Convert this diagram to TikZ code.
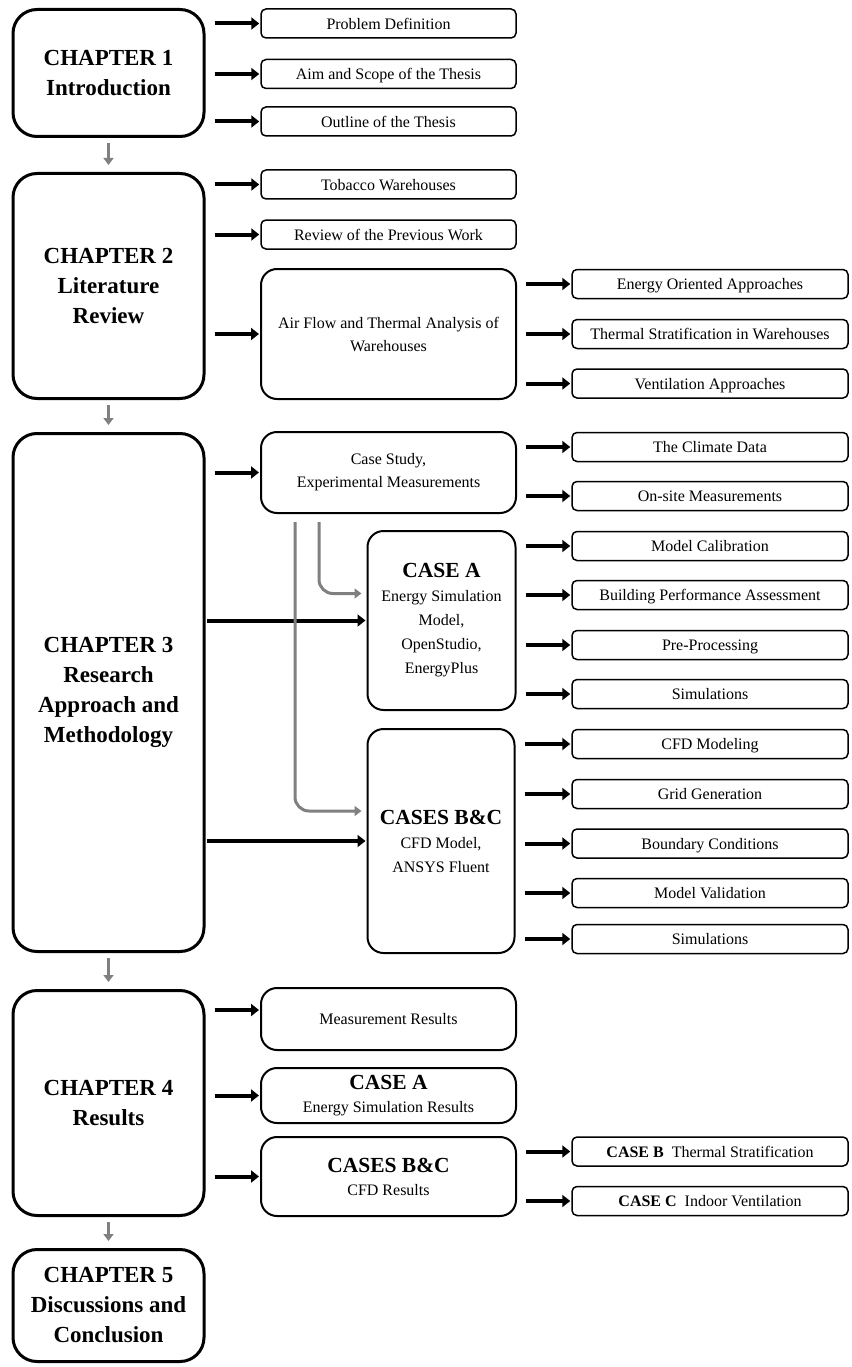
\documentclass[tikz,border=0pt]{standalone}
\usepackage{fontspec}
\setmainfont{Liberation Serif}
\usetikzlibrary{arrows.meta, positioning, calc}
\definecolor{linkgray}{RGB}{128,128,128}
\newcommand{\casehead}[1]{{\fontsize{21.5}{24}\selectfont\bfseries #1}}

\begin{document}
\begin{tikzpicture}[
    x=1pt, y=-1pt,
    chapter/.style={draw, line width=3pt, rounded corners=24pt, minimum width=191pt, inner sep=2pt, align=center, font=\fontsize{23}{30}\selectfont\bfseries},
    topic/.style={draw, line width=2pt, rounded corners=16pt, minimum width=255pt, inner sep=2pt, align=center, font=\fontsize{16}{23}\selectfont},
    casebox/.style={topic, minimum width=148pt, font=\fontsize{16}{24}\selectfont},
    item/.style={draw, line width=1.5pt, rounded corners=5pt, minimum height=29pt, inner sep=2pt, text height=12.5pt, text depth=1pt, align=center, font=\fontsize{16}{20}\selectfont},
    subitem/.style={item, minimum width=255pt},
    detail/.style={item, minimum width=276pt},
    arrow/.style={-{Triangle[length=8pt,width=12pt]}, line width=4pt, shorten <=9pt, shorten >=1pt},
    longarrow/.style={arrow, shorten <=1pt},
    next/.style={-{Triangle[length=7pt,width=10pt]}, line width=3pt, draw=linkgray, shorten <=5pt, shorten >=7pt},
    feed/.style={-{Triangle[length=7pt,width=10pt]}, line width=3pt, draw=linkgray, rounded corners=14pt, shorten >=5pt}
]
    \useasboundingbox (0,0) rectangle (851,1367);

    % Chapters
    \node[chapter, minimum height=127pt] (ch1) at (108.5,73) {CHAPTER 1\\Introduction};
    \node[chapter, minimum height=225pt] (ch2) at (108.5,286) {CHAPTER 2\\Literature\\Review};
    \node[chapter, minimum height=518pt] (ch3) at (108.5,692.5) {CHAPTER 3\\Research\\Approach and\\Methodology};
    \node[chapter, minimum height=225pt] (ch4) at (108.5,1103) {CHAPTER 4\\Results};
    \node[chapter, minimum height=112pt] (ch5) at (108.5,1305.5) {CHAPTER 5\\Discussions and\\Conclusion};

    % Chapter 1 items
    \node[subitem] (probdef) at (388.5,23.5) {Problem Definition};
    \node[subitem] (aimscope) at (388.5,74) {Aim and Scope of the Thesis};
    \node[subitem] (outline) at (388.5,121.5) {Outline of the Thesis};

    % Chapter 2 items
    \node[subitem] (tobacco) at (388.5,184.5) {Tobacco Warehouses};
    \node[subitem] (review) at (388.5,234.5) {Review of the Previous Work};
    \node[topic, minimum height=130pt] (airflow) at (388.5,334) {Air Flow and Thermal Analysis of\\Warehouses};
    \node[detail] (energyapp) at (710,284) {Energy Oriented Approaches};
    \node[detail] (stratif) at (710,334) {Thermal Stratification in Warehouses};
    \node[detail] (ventil) at (710,383.5) {Ventilation Approaches};

    % Chapter 3 items
    \node[topic, minimum height=81pt] (casestudy) at (388.5,472.5) {Case Study,\\Experimental Measurements};
    \node[detail] (climate) at (710,447) {The Climate Data};
    \node[detail] (onsite) at (710,496) {On-site Measurements};
    \node[casebox, minimum height=179pt] (caseA) at (441.5,620.5) {\casehead{CASE A}\\Energy Simulation\\Model,\\OpenStudio,\\EnergyPlus};
    \node[detail] (calib) at (710,546) {Model Calibration};
    \node[detail] (perf) at (710,595) {Building Performance Assessment};
    \node[detail] (preproc) at (710,645) {Pre-Processing};
    \node[detail] (simA) at (710,694) {Simulations};
    \node[casebox, minimum height=224pt, minimum width=147pt] (casesBC) at (441,841) {\casehead{CASES B\&C}\\CFD Model,\\ANSYS Fluent};
    \node[detail] (cfdmod) at (710,744) {CFD Modeling};
    \node[detail] (grid) at (710,794) {Grid Generation};
    \node[detail] (boundary) at (710,843.5) {Boundary Conditions};
    \node[detail] (validation) at (710,893) {Model Validation};
    \node[detail] (simBC) at (710,939) {Simulations};

    % Chapter 4 items
    \node[topic, minimum height=62pt] (measres) at (388.5,1019) {Measurement Results};
    \node[topic, minimum height=55pt] (caseAres) at (388.5,1095.5) {\casehead{CASE A}\\Energy Simulation Results};
    \node[topic, minimum height=79pt] (casesBCres) at (388.5,1176.5) {\casehead{CASES B\&C}\\CFD Results};
    \node[detail] (caseB) at (710,1151.5) {\textbf{CASE B}\hspace{0.5em}Thermal Stratification};
    \node[detail] (caseC) at (710,1201) {\textbf{CASE C}\hspace{0.5em}Indoor Ventilation};
    \coordinate (measin) at ([yshift=9pt]measres.west);

    % Chapter sequence
    \draw[next] (ch1) -- (ch2);
    \draw[next] (ch2) -- (ch3);
    \draw[next] (ch3) -- (ch4);
    \draw[next] (ch4) -- (ch5);

    % Relationships
    \draw[arrow] (ch1.east |- probdef.west) -- (probdef.west);
    \draw[arrow] (ch1.east |- aimscope.west) -- (aimscope.west);
    \draw[arrow] (ch1.east |- outline.west) -- (outline.west);
    \draw[arrow] (ch2.east |- tobacco.west) -- (tobacco.west);
    \draw[arrow] (ch2.east |- review.west) -- (review.west);
    \draw[arrow] (ch2.east |- airflow.west) -- (airflow.west);
    \draw[arrow] (airflow.east |- energyapp.west) -- (energyapp.west);
    \draw[arrow] (airflow.east |- stratif.west) -- (stratif.west);
    \draw[arrow] (airflow.east |- ventil.west) -- (ventil.west);
    \draw[arrow] (ch3.east |- casestudy.west) -- (casestudy.west);
    \draw[arrow] (casestudy.east |- climate.west) -- (climate.west);
    \draw[arrow] (casestudy.east |- onsite.west) -- (onsite.west);
    \draw[longarrow] (ch3.east |- caseA.west) -- (caseA.west);
    \draw[arrow] (caseA.east |- calib.west) -- (calib.west);
    \draw[arrow] (caseA.east |- perf.west) -- (perf.west);
    \draw[arrow] (caseA.east |- preproc.west) -- (preproc.west);
    \draw[arrow] (caseA.east |- simA.west) -- (simA.west);
    \draw[longarrow] (ch3.east |- casesBC.west) -- (casesBC.west);
    \draw[arrow] (casesBC.east |- cfdmod.west) -- (cfdmod.west);
    \draw[arrow] (casesBC.east |- grid.west) -- (grid.west);
    \draw[arrow] (casesBC.east |- boundary.west) -- (boundary.west);
    \draw[arrow] (casesBC.east |- validation.west) -- (validation.west);
    \draw[arrow] (casesBC.east |- simBC.west) -- (simBC.west);
    \draw[arrow] (ch4.east |- measin) -- (measin);
    \draw[arrow] (ch4.east |- caseAres.west) -- (caseAres.west);
    \draw[arrow] (ch4.east |- casesBCres.west) -- (casesBCres.west);
    \draw[arrow] (casesBCres.east |- caseB.west) -- (caseB.west);
    \draw[arrow] (casesBCres.east |- caseC.west) -- (caseC.west);

    % Case study feeds
    \draw[feed] ([xshift=59pt,yshift=-8pt]casestudy.south west) |- ([yshift=27pt]caseA.west);
    \draw[feed] ([xshift=35pt,yshift=-8pt]casestudy.south west) |- ([yshift=30pt]casesBC.west);
\end{tikzpicture}
\end{document}
